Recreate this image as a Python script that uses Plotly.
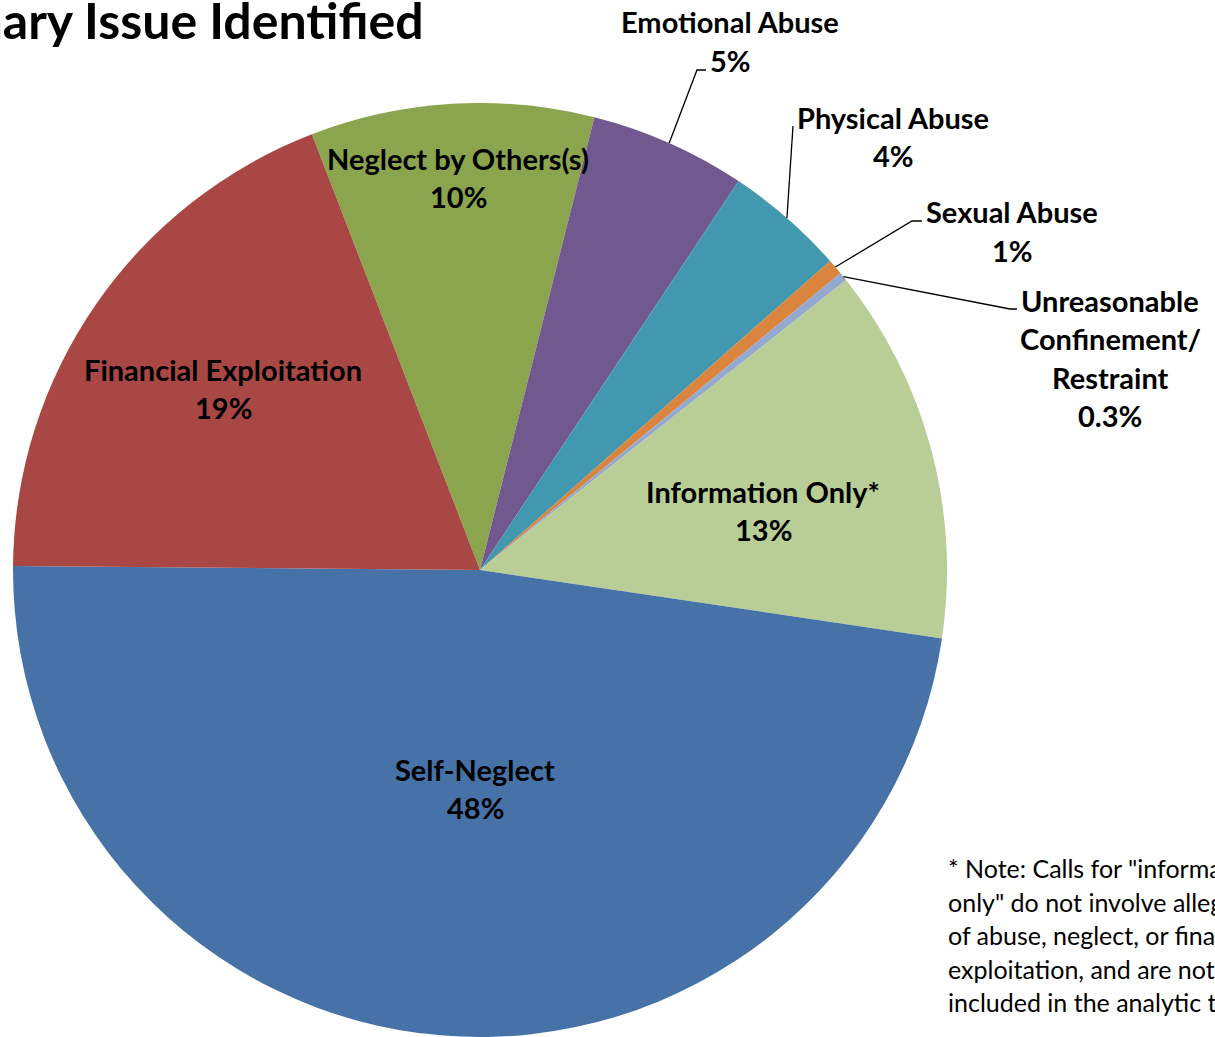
import math
import plotly.graph_objects as go

# ---------------- data ----------------
categories = [
    "Neglect by Others(s)",
    "Emotional Abuse",
    "Physical Abuse",
    "Sexual Abuse",
    "Unreasonable Confinement/Restraint",
    "Information Only*",
    "Self-Neglect",
    "Financial Exploitation",
]
values = [9.8, 5.4, 4.15, 0.55, 0.3, 13.0, 47.8, 19.0]
pct_labels = ["10%", "5%", "4%", "1%", "0.3%", "13%", "48%", "19%"]
label_lines = [
    ["Neglect by Others(s)"],
    ["Emotional Abuse"],
    ["Physical Abuse"],
    ["Sexual Abuse"],
    ["Unreasonable", "Confinement/", "Restraint"],
    ["Information Only*"],
    ["Self-Neglect"],
    ["Financial Exploitation"],
]
colors = ["#8AA54E", "#71588F", "#4198AF", "#DB843D", "#93A9CF", "#B9CD96", "#4672A8", "#A84744"]

title_text = "Primary Issue Identified"
note_lines = [
    '* Note: Calls for "information',
    'only" do not involve allegations',
    "of abuse, neglect, or financial",
    "exploitation, and are not",
    "included in the analytic totals.",
]

# ---------------- layout (pixels) ----------------
W, H = 1215, 1037
CX, CY, R = 480, 570, 467
START = -21.1  # first slice start angle, degrees clockwise from 12 o'clock
LINE_GAP = 38.5
FONT = "Lato"
LABEL_SIZE = 29
TITLE_SIZE = 50
NOTE_SIZE = 25

# label centre x and first-line centre y (pixels)
label_pos = {
    "Neglect by Others(s)": (458, 158),
    "Emotional Abuse": (730, 22),
    "Physical Abuse": (893, 117),
    "Sexual Abuse": (1012, 212),
    "Unreasonable Confinement/Restraint": (1110, 300),
    "Information Only*": (763, 491),
    "Self-Neglect": (475, 769),
    "Financial Exploitation": (223, 369),
}
# leader line elbow points (pixels) for outside labels
leader_pts = {
    "Emotional Abuse": [(697, 70), (706, 70)],
    "Physical Abuse": [(793, 126)],
    "Sexual Abuse": [(912, 221), (922, 221)],
    "Unreasonable Confinement/Restraint": [(1010, 309), (1017, 309)],
}


def px(x):
    return x / W


def py(y):
    return 1 - y / H


fig = go.Figure(
    go.Pie(
        labels=categories,
        values=values,
        sort=False,
        direction="clockwise",
        rotation=START,
        marker=dict(colors=colors, line=dict(width=0)),
        textinfo="none",
        hoverinfo="label+percent",
        showlegend=False,
        domain=dict(x=[px(CX - R), px(CX + R)], y=[py(CY + R), py(CY - R)]),
    )
)

annotations = []
shapes = []
total = sum(values)
cum = 0.0
for cat, v, pct, lines in zip(categories, values, pct_labels, label_lines):
    mid = math.radians(START + 360 * (cum + v / 2) / total)
    cum += v
    lx, ly = label_pos[cat]
    for i, t in enumerate(lines + [pct]):
        annotations.append(
            dict(
                x=px(lx), y=py(ly + i * LINE_GAP), xref="paper", yref="paper",
                xanchor="center", yanchor="middle", showarrow=False,
                text=f"<b>{t}</b>", font=dict(family=FONT, size=LABEL_SIZE, color="black"),
            )
        )
    if cat in leader_pts:
        sx = CX + R * math.sin(mid)
        sy = CY - R * math.cos(mid)
        pts = [(sx, sy)] + leader_pts[cat]
        path = "M " + " L ".join(f"{px(a):.5f},{py(b):.5f}" for a, b in pts)
        shapes.append(
            dict(type="path", xref="paper", yref="paper", path=path,
                 line=dict(color="black", width=1.3))
        )

annotations.append(
    dict(
        x=px(426), y=py(20), xref="paper", yref="paper", xanchor="right",
        yanchor="middle", showarrow=False, text=f"<b>{title_text}</b>",
        font=dict(family=FONT, size=TITLE_SIZE, color="black"),
    )
)
for i, t in enumerate(note_lines):
    annotations.append(
        dict(
            x=px(946), y=py(868 + i * 33.5), xref="paper", yref="paper",
            xanchor="left", yanchor="middle", showarrow=False, text=t,
            font=dict(family=FONT, size=NOTE_SIZE, color="black"),
        )
    )

fig.update_layout(
    width=W, height=H,
    margin=dict(l=0, r=0, t=0, b=0),
    paper_bgcolor="white", plot_bgcolor="white",
    annotations=annotations, shapes=shapes,
    showlegend=False,
)

fig.write_html(
    "out.html",
    config={"displayModeBar": False},
    post_script="document.body.style.margin='0';document.body.style.overflow='hidden';",
)
